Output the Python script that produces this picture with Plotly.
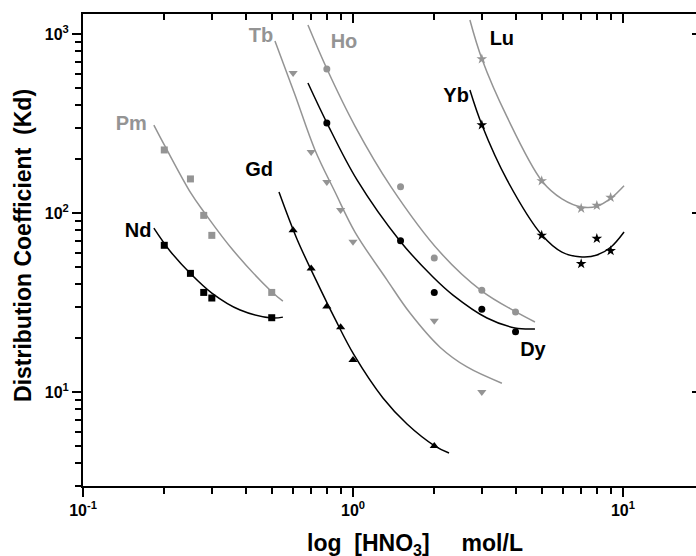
import plotly.graph_objects as go

# ---- measured distribution coefficients ----
nd_x = [0.2, 0.25, 0.28, 0.3, 0.5]
nd_y = [66, 46, 36, 33.5, 26]
pm_x = [0.2, 0.25, 0.28, 0.3, 0.5]
pm_y = [225, 155, 97, 75, 36]

gd_x = [0.6, 0.7, 0.8, 0.9, 1.0, 2.0]
gd_y = [80, 49, 30, 23, 15.1, 5.0]
tb_x = [0.6, 0.7, 0.8, 0.9, 1.0, 2.0, 3.0]
tb_y = [606, 219, 149, 104, 69, 25, 10]

dy_x = [0.8, 1.5, 2.0, 3.0, 4.0]
dy_y = [318, 70, 36, 29, 21.7]
ho_x = [0.8, 1.5, 2.0, 3.0, 4.0]
ho_y = [637, 140, 56, 37, 28]

yb_x = [3, 5, 7, 8, 9]
yb_y = [310, 75, 52, 72, 61.5]
lu_x = [3, 5, 7, 8, 9]
lu_y = [725, 151, 106, 110, 122]

# ---- fitted curves (sampled along each fit) ----
nd_fit_x = [0.183, 0.210, 0.251, 0.300, 0.382, 0.501, 0.550]
nd_fit_y = [82.4, 61.4, 45.6, 35.7, 28.7, 25.9, 26.2]
pm_fit_x = [0.183, 0.201, 0.251, 0.281, 0.359, 0.501, 0.550]
pm_fit_y = [310, 237, 129, 101, 62.1, 36.2, 32.2]
gd_fit_x = [0.532, 0.620, 0.729, 0.858, 1.009, 1.291, 1.585, 2.013, 2.268]
gd_fit_y = [131, 71.6, 42.3, 25.6, 16.1, 9.26, 6.63, 4.99, 4.56]
tb_fit_x = [0.514, 0.610, 0.723, 0.858, 1.017, 1.336, 1.626, 2.10, 2.644, 3.56]
tb_fit_y = [914, 456, 225, 131, 78.3, 42.3, 27.6, 17.8, 13.8, 11.2]
ho_fit_x = [0.681, 0.801, 1.017, 1.383, 2.10, 3.003, 4.016, 4.72]
ho_fit_y = [1122, 637, 306, 140, 60.5, 36.6, 28.0, 24.6]
dy_fit_x = [0.681, 0.801, 1.035, 1.493, 1.978, 2.346, 3.135, 3.98, 4.72]
dy_fit_y = [532, 318, 153, 69.8, 43.9, 34.8, 25.9, 22.8, 22.5]
lu_fit_x = [2.71, 3.003, 3.72, 5.01, 5.94, 7.05, 8.01, 9.03, 10.09]
lu_fit_y = [1197, 725, 344, 151, 120, 108, 109, 121, 142]
yb_fit_x = [2.71, 3.003, 3.72, 5.01, 5.94, 7.05, 8.01, 9.03, 10.09]
yb_fit_y = [486, 310, 153, 75.3, 60.5, 56.8, 58.2, 64.6, 78.3]

# ---- element labels ----
black_names = ["Nd", "Gd", "Yb", "Lu", "Dy"]
black_lx = [0.160, 0.449, 2.41, 3.56, 4.64]
black_ly = [78.3, 172, 444, 925, 16.9]
gray_names = ["Pm", "Tb", "Ho"]
gray_lx = [0.151, 0.456, 0.926]
gray_ly = [310, 961, 891]

# ---- axis ticks ----
x_tickvals = [0.1, 1, 10]
x_ticktext = ["10<sup>-1</sup>", "10<sup>0</sup>", "10<sup>1</sup>"]
y_tickvals = [10, 100, 1000]
y_ticktext = ["10<sup>1</sup>", "10<sup>2</sup>", "10<sup>3</sup>"]

BLACK = "#000000"
GRAY = "#949494"
FONT = "Liberation Sans, Arial, sans-serif"

fig = go.Figure()


def add_series(px, py, fx, fy, color, symbol, size):
    fig.add_trace(go.Scatter(x=fx, y=fy, mode="lines",
                             line=dict(color=color, width=1.5, shape="spline"),
                             hoverinfo="skip"))
    fig.add_trace(go.Scatter(x=px, y=py, mode="markers",
                             marker=dict(color=color, symbol=symbol, size=size,
                                         line=dict(width=0))))


add_series(pm_x, pm_y, pm_fit_x, pm_fit_y, GRAY, "square", 7)
add_series(nd_x, nd_y, nd_fit_x, nd_fit_y, BLACK, "square", 7)
add_series(tb_x, tb_y, tb_fit_x, tb_fit_y, GRAY, "triangle-down", 8)
add_series(gd_x, gd_y, gd_fit_x, gd_fit_y, BLACK, "triangle-up", 8)
add_series(ho_x, ho_y, ho_fit_x, ho_fit_y, GRAY, "circle", 7)
add_series(dy_x, dy_y, dy_fit_x, dy_fit_y, BLACK, "circle", 7)
add_series(lu_x, lu_y, lu_fit_x, lu_fit_y, GRAY, "star", 8)
add_series(yb_x, yb_y, yb_fit_x, yb_fit_y, BLACK, "star", 8)

# element names, drawn on the overlay axes (same scales as the main ones)
fig.add_trace(go.Scatter(x=black_lx, y=black_ly, text=black_names, mode="text",
                         textposition="middle center",
                         textfont=dict(family=FONT, size=20, color=BLACK, weight="bold"),
                         xaxis="x2", yaxis="y2", hoverinfo="skip"))
fig.add_trace(go.Scatter(x=gray_lx, y=gray_ly, text=gray_names, mode="text",
                         textposition="middle center",
                         textfont=dict(family=FONT, size=20, color=GRAY, weight="bold"),
                         xaxis="x2", yaxis="y2", hoverinfo="skip"))

X_RANGE = [-1, 1.2704]
Y_RANGE = [0.4749, 3.1117]

x_minor = [m * d for d in (0.1, 1, 10) for m in range(2, 10)]
y_minor = [m * d for d in (1, 10, 100, 1000) for m in range(2, 10)]

tick_font = dict(family=FONT, size=16, color=BLACK, weight="bold")
title_font = dict(family=FONT, size=23, color=BLACK, weight="bold")

fig.update_layout(
    width=696, height=556,
    margin=dict(l=83, r=0, t=14, b=70),
    paper_bgcolor="white", plot_bgcolor="white",
    showlegend=False,
    xaxis=dict(type="log", range=X_RANGE, showline=True, linewidth=2, linecolor=BLACK,
               ticks="outside", ticklen=9, tickwidth=2, tickcolor=BLACK,
               tickmode="array", tickvals=x_tickvals, ticktext=x_ticktext,
               tickfont=tick_font, showgrid=False, zeroline=False,
               minor=dict(ticks="outside", ticklen=6, tickwidth=2, tickcolor=BLACK,
                          tickmode="array", tickvals=x_minor, showgrid=False)),
    yaxis=dict(type="log", range=Y_RANGE, showline=True, linewidth=2, linecolor=BLACK,
               ticks="outside", ticklen=9, tickwidth=2, tickcolor=BLACK,
               tickmode="array", tickvals=y_tickvals, ticktext=y_ticktext,
               tickfont=tick_font, showgrid=False, zeroline=False,
               minor=dict(ticks="outside", ticklen=6, tickwidth=2, tickcolor=BLACK,
                          tickmode="array", tickvals=y_minor, showgrid=False)),
    xaxis2=dict(type="log", range=X_RANGE, overlaying="x", side="top", anchor="y",
                showline=True, linewidth=2, linecolor=BLACK,
                ticks="inside", ticklen=9, tickwidth=2, tickcolor=BLACK,
                tickmode="array", tickvals=x_tickvals, showticklabels=False,
                showgrid=False, zeroline=False,
                minor=dict(ticks="inside", ticklen=6, tickwidth=2, tickcolor=BLACK,
                           tickmode="array", tickvals=x_minor, showgrid=False)),
    yaxis2=dict(type="log", range=Y_RANGE, overlaying="y", side="right", anchor="x",
                showline=False, ticks="inside", ticklen=4, tickwidth=1.5, tickcolor=BLACK,
                tickmode="array", tickvals=y_tickvals, showticklabels=False,
                showgrid=False, zeroline=False),
    annotations=[
        dict(text="Distribution Coefficient\u00a0\u00a0(Kd)", textangle=-90,
             xref="paper", yref="paper", x=-0.0979, y=0.5106,
             xanchor="center", yanchor="middle", showarrow=False,
             font=title_font),
        dict(text="log\u00a0\u00a0[HNO<sub>3</sub>]\u00a0\u00a0\u00a0\u00a0\u00a0mol/L",
             xref="paper", yref="paper", x=0.5416, y=-0.1230,
             xanchor="center", yanchor="middle", showarrow=False,
             font=title_font),
    ],
)

fig.write_html("out.html")
